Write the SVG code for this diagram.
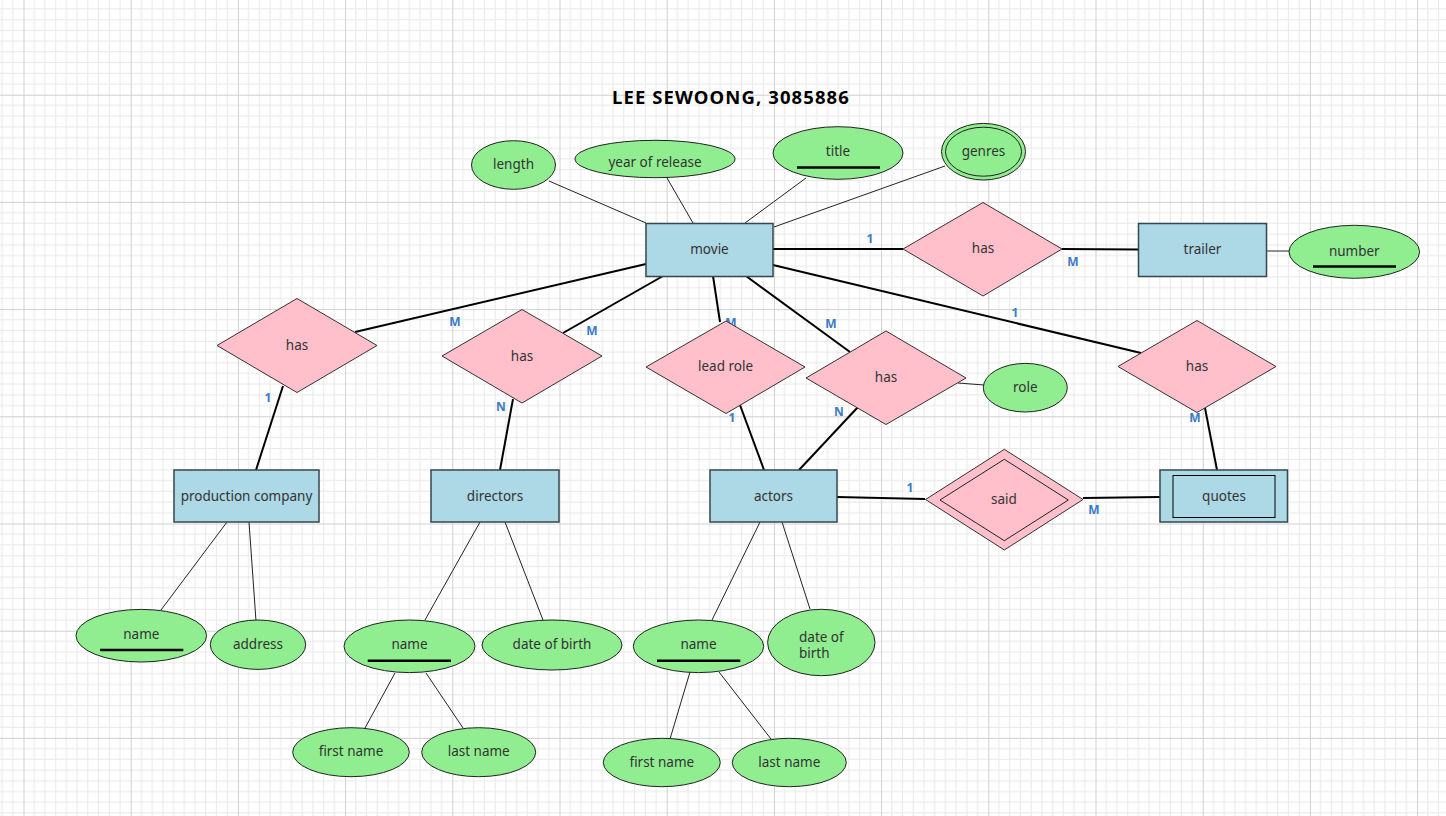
<svg xmlns="http://www.w3.org/2000/svg" width="1446" height="816" viewBox="0 0 1446 816">
<defs>
<pattern id="grid" patternUnits="userSpaceOnUse" x="23.5" y="94.7" width="107.2" height="107.2">
<path d="M10.72,0V107.2M21.44,0V107.2M32.16,0V107.2M42.88,0V107.2M53.6,0V107.2M64.32,0V107.2M75.04,0V107.2M85.76,0V107.2M96.48,0V107.2M0,10.72H107.2M0,21.44H107.2M0,32.16H107.2M0,42.88H107.2M0,53.6H107.2M0,64.32H107.2M0,75.04H107.2M0,85.76H107.2M0,96.48H107.2" stroke="#e8e8e8" stroke-width="1" fill="none"/>
<path d="M0.5,0V107.2M0,0.5H107.2" stroke="#d0d0d0" stroke-width="1" fill="none"/>
</pattern>
<style>
text{font-family:"Noto Sans","Liberation Sans",sans-serif;font-size:13.5px;fill:#333;text-anchor:middle;dominant-baseline:central}
.title{font-size:18.5px;font-weight:bold;fill:#000;letter-spacing:1.1px}
.card{font-size:12px;font-weight:bold;fill:#3a7bc8}
.rel{stroke:#000;stroke-width:2;fill:none}
.attr{stroke:#222;stroke-width:1;fill:none}
.ent{fill:#add8e6;stroke:#36474f;stroke-width:1.5}
.dia{fill:#ffc0cb;stroke:#333;stroke-width:1}
.ell{fill:#90ee90;stroke:#222;stroke-width:1}
.ul{stroke:#000;stroke-width:2.5}
</style>
</defs>
<rect width="1446" height="816" fill="#fff"/>
<rect width="1446" height="816" fill="url(#grid)"/>
<text class="title" x="731" y="96">LEE SEWOONG, 3085886</text>

<g id="connectors">
<path class="rel" d="M773,249L903,249"/>
<path class="rel" d="M1062,249L1138,249.5"/>
<path class="rel" d="M773,265L1141,353"/>
<path class="rel" d="M1205,408L1217,470"/>
<path class="rel" d="M646,264L355,332"/>
<path class="rel" d="M283,386L256,470"/>
<path class="rel" d="M663,276L563,333"/>
<path class="rel" d="M513,399L500,470"/>
<path class="rel" d="M713,276L720,322"/>
<path class="rel" d="M740,405L764,470"/>
<path class="rel" d="M746,276L850,352"/>
<path class="rel" d="M858,407L799,470"/>
<path class="rel" d="M837,497L925,499"/>
<path class="rel" d="M1083,498L1160,497"/>
<path class="attr" d="M549,181L646,223"/>
<path class="attr" d="M667,178L693,223"/>
<path class="attr" d="M806,178L745,223"/>
<path class="attr" d="M945,166L774,227"/>
<path class="attr" d="M1266,251L1289,251" stroke="#666"/>
<path class="attr" d="M958,383L984,385"/>
<path class="attr" d="M227,522L161,610"/>
<path class="attr" d="M249,522L256,621"/>
<path class="attr" d="M480,522L425,620"/>
<path class="attr" d="M505,522L543,620"/>
<path class="attr" d="M395,673L365,728"/>
<path class="attr" d="M426,673L463,728"/>
<path class="attr" d="M760,522L712,620"/>
<path class="attr" d="M782,522L810,609"/>
<path class="attr" d="M690,672L670,739"/>
<path class="attr" d="M719,672L771,739"/>
<text class="card" x="870" y="238">1</text>
<text class="card" x="1073" y="261">M</text>
<text class="card" x="1015" y="312">1</text>
<text class="card" x="1195" y="417">M</text>
<text class="card" x="455" y="321">M</text>
<text class="card" x="268" y="397">1</text>
<text class="card" x="592" y="330">M</text>
<text class="card" x="501" y="406">N</text>
<text class="card" x="731" y="322">M</text>
<text class="card" x="732" y="417">1</text>
<text class="card" x="831" y="323">M</text>
<text class="card" x="839" y="411">N</text>
<text class="card" x="910" y="487">1</text>
<text class="card" x="1094" y="509">M</text>
</g>

<g id="movie"><rect class="ent" x="646" y="223.5" width="127" height="53"/><text x="709.5" y="249">movie</text></g>
<g id="trailer"><rect class="ent" x="1138.5" y="223.5" width="128" height="53"/><text x="1202.5" y="249">trailer</text></g>
<g id="production_company"><rect class="ent" x="174" y="470" width="145" height="52"/><text x="246.5" y="496">production company</text></g>
<g id="directors"><rect class="ent" x="431" y="470" width="128" height="52"/><text x="495" y="496">directors</text></g>
<g id="actors"><rect class="ent" x="710" y="470" width="127" height="52"/><text x="773.5" y="496">actors</text></g>
<g id="quotes"><rect class="ent" x="1160" y="470" width="127.5" height="52"/><rect x="1173" y="475.5" width="102" height="42" fill="none" stroke="#000" stroke-width="1"/><text x="1224" y="496">quotes</text></g>

<g id="has_trailer"><polygon class="dia" points="903,249 983,202.5 1062,249 983,296"/><text x="983" y="248">has</text></g>
<g id="has_quotes"><polygon class="dia" points="1118,366.5 1197,320.5 1276,366.5 1197,412.5"/><text x="1197" y="366">has</text></g>
<g id="has_production"><polygon class="dia" points="217,345.5 297,298.5 377,345.5 297,392.5"/><text x="297" y="345">has</text></g>
<g id="has_directors"><polygon class="dia" points="442,356 522,309.5 602,356 522,403"/><text x="522" y="356">has</text></g>
<g id="lead_role"><polygon class="dia" points="646,367 726,321 805,367 726,413.5"/><text x="725.5" y="366">lead role</text></g>
<g id="has_role"><polygon class="dia" points="806,378 886,331 966,378 886,424.5"/><text x="886" y="377">has</text></g>
<g id="said"><polygon class="dia" points="925.5,499.5 1004.3,449.3 1083,499.5 1004.3,550"/><polygon points="940,500 1004.3,459.3 1068.3,500 1004.3,540.7" fill="none" stroke="#222" stroke-width="1"/><text x="1004" y="499">said</text></g>

<g id="length"><ellipse class="ell" cx="513.5" cy="165" rx="42" ry="24.3"/><text x="513.5" y="164">length</text></g>
<g id="year_of_release"><ellipse class="ell" cx="655" cy="159" rx="80" ry="18.7"/><text x="655" y="162">year of release</text></g>
<g id="title"><ellipse class="ell" cx="838" cy="153" rx="65" ry="26.3"/><line class="ul" x1="797" y1="167.5" x2="880" y2="167.5"/><text x="838" y="151">title</text></g>
<g id="genres"><ellipse class="ell" cx="983.5" cy="151.7" rx="42" ry="28.3"/><ellipse cx="983.5" cy="151.7" rx="38" ry="24.5" fill="none" stroke="#222" stroke-width="1"/><text x="983.5" y="151">genres</text></g>
<g id="number"><ellipse class="ell" cx="1354.3" cy="251.8" rx="65.3" ry="26.5"/><line class="ul" x1="1313" y1="266.5" x2="1396" y2="266.5"/><text x="1354.3" y="250.5">number</text></g>
<g id="role"><ellipse class="ell" cx="1025.3" cy="387.7" rx="42" ry="24.3"/><text x="1025.3" y="387">role</text></g>
<g id="pc_name"><ellipse class="ell" cx="141.3" cy="635.7" rx="65.3" ry="26.3"/><line class="ul" x1="100" y1="650" x2="183.3" y2="650"/><text x="141.3" y="634">name</text></g>
<g id="pc_address"><ellipse class="ell" cx="258" cy="644.7" rx="47.7" ry="24.7"/><text x="258" y="644">address</text></g>
<g id="dir_name"><ellipse class="ell" cx="409.5" cy="646.3" rx="65.5" ry="26.3"/><line class="ul" x1="367.7" y1="660.7" x2="451" y2="660.7"/><text x="409.5" y="644">name</text></g>
<g id="dir_dob"><ellipse class="ell" cx="552" cy="645" rx="70" ry="25"/><text x="552" y="644">date of birth</text></g>
<g id="dir_first"><ellipse class="ell" cx="351" cy="752.2" rx="58.3" ry="24.5"/><text x="351" y="751">first name</text></g>
<g id="dir_last"><ellipse class="ell" cx="478.7" cy="752.2" rx="57" ry="24.5"/><text x="478.7" y="751">last name</text></g>
<g id="act_name"><ellipse class="ell" cx="698.5" cy="646.3" rx="65.2" ry="26.3"/><line class="ul" x1="657" y1="660.7" x2="740.3" y2="660.7"/><text x="698.5" y="644">name</text></g>
<g id="act_dob"><ellipse class="ell" cx="821.3" cy="642.5" rx="53.7" ry="33.2"/><text x="799" y="636.5" style="text-anchor:start">date of</text><text x="799" y="652.5" style="text-anchor:start">birth</text></g>
<g id="act_first"><ellipse class="ell" cx="661.8" cy="762.5" rx="58.5" ry="24.2"/><text x="661.8" y="762">first name</text></g>
<g id="act_last"><ellipse class="ell" cx="789.3" cy="762.5" rx="57" ry="24.2"/><text x="789.3" y="762">last name</text></g>
</svg>
